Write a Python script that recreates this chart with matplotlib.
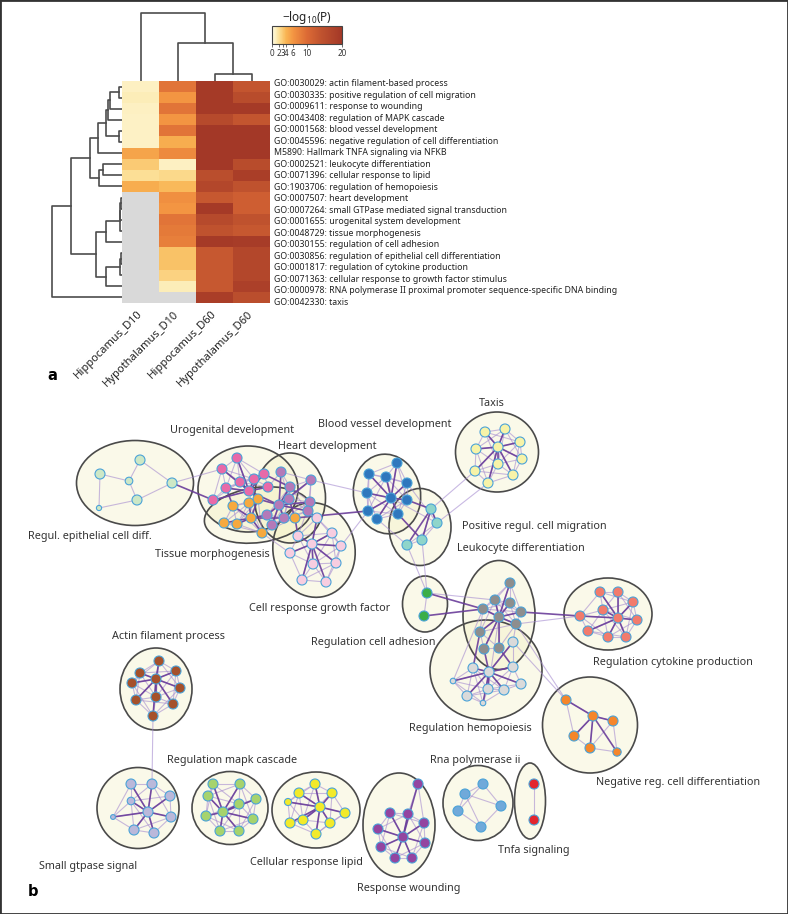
"""Enrichment heatmap (panel a) and GO-term cluster network (panel b)."""

import numpy as np
import matplotlib

matplotlib.use("Agg")
import matplotlib.pyplot as plt
from matplotlib.colors import LinearSegmentedColormap
from matplotlib.patches import Ellipse, Rectangle

plt.rcParams["font.family"] = ["Noto Sans", "DejaVu Sans"]
plt.rcParams["mathtext.default"] = "regular"

W, H = 788, 914

# ---------------- panel a data ----------------
terms = [
    "GO:0030029: actin filament-based process",
    "GO:0030335: positive regulation of cell migration",
    "GO:0009611: response to wounding",
    "GO:0043408: regulation of MAPK cascade",
    "GO:0001568: blood vessel development",
    "GO:0045596: negative regulation of cell differentiation",
    "M5890: Hallmark TNFA signaling via NFKB",
    "GO:0002521: leukocyte differentiation",
    "GO:0071396: cellular response to lipid",
    "GO:1903706: regulation of hemopoiesis",
    "GO:0007507: heart development",
    "GO:0007264: small GTPase mediated signal transduction",
    "GO:0001655: urogenital system development",
    "GO:0048729: tissue morphogenesis",
    "GO:0030155: regulation of cell adhesion",
    "GO:0030856: regulation of epithelial cell differentiation",
    "GO:0001817: regulation of cytokine production",
    "GO:0071363: cellular response to growth factor stimulus",
    "GO:0000978: RNA polymerase II proximal promoter sequence-specific DNA binding",
    "GO:0042330: taxis",
]
samples = ["Hippocamus_D10", "Hypothalamus_D10", "Hippocamus_D60", "Hypothalamus_D60"]

nan = np.nan
hippocamus_d10 = [1.0, 1.2, 1.0, 0.9, 0.9, 0.9, 5.0, 3.0, 2.0, 4.5,
                  nan, nan, nan, nan, nan, nan, nan, nan, nan, nan]
hypothalamus_d10 = [9.0, 6.0, 9.0, 6.0, 9.0, 4.5, 7.0, 1.0, 2.3, 3.8,
                    6.5, 6.0, 9.0, 8.5, 8.0, 3.4, 3.4, 2.6, 1.2, nan]
hippocamus_d60 = [19.5, 19.5, 19.5, 16.0, 20.0, 20.0, 20.0, 20.0, 15.0, 16.5,
                  13.0, 19.5, 16.0, 14.0, 19.5, 13.0, 13.0, 13.0, 13.0, 18.5]
hypothalamus_d60 = [13.5, 15.5, 19.5, 13.5, 20.0, 20.0, 20.0, 15.5, 18.5, 14.0,
                    12.0, 12.0, 14.0, 13.0, 19.0, 16.5, 16.5, 16.5, 18.0, 15.0]
cbar_ticks = [0, 2, 3, 4, 6, 10, 20]

# dendrograms as (child a, child b, merge height); leaves first, merged ids follow
row_links = [
    (0, 1, 0.04), (20, 2, 0.17), (21, 3, 0.20), (4, 5, 0.04), (22, 23, 0.23),
    (24, 6, 0.35), (7, 8, 0.27), (26, 9, 0.33), (25, 27, 0.46),
    (10, 11, 0.02), (29, 12, 0.025), (30, 13, 0.03), (31, 14, 0.23),
    (15, 16, 0.02), (33, 17, 0.03), (34, 18, 0.23), (32, 35, 0.37),
    (28, 36, 0.73), (37, 19, 1.0),
]
col_links = [(2, 3, 0.10), (1, 4, 0.56), (0, 5, 1.0)]

# ---------------- panel b data (layout coordinates of the network) ----------------
epithelial = [(100, 474), (140, 460), (129, 481), (137, 500), (172, 483), (99, 508)]
urogenital = [(237, 458), (222, 469), (240, 482), (254, 479), (264, 474),
              (226, 488), (249, 491), (268, 487), (213, 500)]
heart = [(281, 472), (311, 480), (290, 487), (289, 499), (310, 502),
         (279, 505), (308, 511), (267, 515), (284, 518), (272, 525)]
tissue = [(258, 499), (249, 503), (233, 506), (251, 518), (224, 523),
          (237, 524), (262, 533), (295, 518)]
growth = [(317, 518), (298, 536), (332, 533), (312, 544), (341, 546),
          (290, 553), (313, 564), (336, 563), (302, 580), (326, 582)]
blood = [(397, 463), (369, 474), (386, 477), (407, 483), (367, 493),
         (391, 498), (407, 500), (368, 511), (377, 519), (398, 514)]
migration = [(431, 509), (437, 523), (422, 540), (407, 545)]
taxis = [(485, 432), (505, 429), (520, 442), (476, 449), (498, 447),
         (522, 459), (498, 464), (475, 471), (513, 475), (488, 483)]
adhesion = [(427, 593), (424, 616)]
leukocyte = [(510, 583), (495, 600), (510, 603), (483, 609), (521, 612),
             (499, 617), (516, 624), (480, 632), (484, 649), (499, 648)]
hemopoiesis = [(513, 642), (473, 668), (489, 672), (513, 667), (453, 681),
               (521, 684), (488, 689), (504, 690), (467, 696), (483, 703)]
cytokine = [(600, 592), (618, 592), (633, 602), (603, 610), (580, 616),
            (618, 618), (637, 620), (588, 631), (608, 637), (626, 637)]
negative = [(566, 700), (593, 716), (613, 721), (574, 736), (590, 748), (617, 752)]
actin = [(159, 661), (140, 673), (176, 671), (156, 679), (132, 683),
         (180, 688), (156, 697), (136, 700), (173, 704), (153, 716)]
gtpase = [(131, 784), (152, 784), (170, 796), (131, 801), (148, 812),
          (171, 817), (113, 817), (134, 830), (154, 833)]
mapk = [(213, 784), (240, 784), (208, 796), (256, 799), (239, 804),
        (223, 812), (206, 816), (253, 819), (220, 831), (239, 831)]
lipid = [(315, 784), (299, 793), (332, 793), (288, 802), (320, 807),
         (345, 813), (303, 820), (290, 823), (330, 823), (316, 834)]
wounding = [(418, 784), (390, 813), (408, 814), (424, 823), (378, 829),
            (403, 837), (425, 843), (381, 847), (395, 858), (412, 858)]
rnapol = [(483, 784), (465, 794), (501, 806), (458, 811), (481, 827)]
tnfa = [(534, 784), (534, 820)]

# name -> (label, node colour, nodes, hub node for strong edges)
clusters = {
    "epithelial": ("Regul. epithelial cell diff.", "#cde8c6", epithelial, None),
    "urogenital": ("Urogenital development", "#e86aa8", urogenital, 6),
    "heart": ("Heart development", "#b47ab8", heart, 5),
    "tissue": ("Tissue morphogenesis", "#f6a93f", tissue, 3),
    "growth": ("Cell response growth factor", "#f7cde0", growth, 3),
    "blood": ("Blood vessel development", "#2f77bd", blood, 5),
    "migration": ("Positive regul. cell migration", "#8fd5ca", migration, 0),
    "taxis": ("Taxis", "#f7f3a8", taxis, 4),
    "adhesion": ("Regulation cell adhesion", "#3aae48", adhesion, None),
    "leukocyte": ("Leukocyte differentiation", "#8e8e8e", leukocyte, 5),
    "hemopoiesis": ("Regulation hemopoiesis", "#dadada", hemopoiesis, 2),
    "cytokine": ("Regulation cytokine production", "#f27b6c", cytokine, 5),
    "negative": ("Negative reg. cell differentiation", "#f5862b", negative, 1),
    "actin": ("Actin filament process", "#a5512b", actin, 3),
    "gtpase": ("Small gtpase signal", "#bab8da", gtpase, 4),
    "mapk": ("Regulation mapk cascade", "#a6d36d", mapk, 5),
    "lipid": ("Cellular response lipid", "#f2ea2a", lipid, 4),
    "wounding": ("Response wounding", "#9345a0", wounding, 5),
    "rnapol": ("Rna polymerase ii", "#70a9da", rnapol, None),
    "tnfa": ("Tnfa signaling", "#e3262e", tnfa, None),
}

# edges between clusters: (cluster, node, cluster, node, strong)
cross_links = [
    ("epithelial", 4, "urogenital", 8, True), ("epithelial", 4, "urogenital", 1, False),
    ("urogenital", 6, "heart", 5, True), ("urogenital", 2, "tissue", 0, True),
    ("urogenital", 4, "heart", 2, True), ("urogenital", 7, "heart", 0, False),
    ("urogenital", 5, "tissue", 2, True), ("urogenital", 3, "tissue", 1, False),
    ("heart", 5, "tissue", 0, True), ("heart", 7, "tissue", 3, True),
    ("heart", 3, "tissue", 7, True), ("heart", 6, "growth", 0, True),
    ("heart", 4, "growth", 1, False), ("tissue", 7, "growth", 1, True),
    ("tissue", 6, "growth", 5, False), ("heart", 1, "blood", 4, False),
    ("tissue", 7, "blood", 7, True), ("growth", 4, "blood", 7, False),
    ("blood", 6, "migration", 0, True), ("blood", 9, "migration", 2, True),
    ("blood", 5, "migration", 1, False), ("blood", 8, "migration", 3, False),
    ("blood", 3, "migration", 1, False), ("migration", 0, "taxis", 7, False),
    ("migration", 1, "taxis", 9, False), ("migration", 2, "adhesion", 0, False),
    ("migration", 3, "adhesion", 0, False), ("adhesion", 0, "leukocyte", 3, True),
    ("adhesion", 1, "leukocyte", 3, True), ("adhesion", 0, "leukocyte", 1, False),
    ("leukocyte", 4, "cytokine", 4, True), ("leukocyte", 6, "cytokine", 4, False),
    ("leukocyte", 7, "hemopoiesis", 1, True), ("leukocyte", 8, "hemopoiesis", 2, True),
    ("leukocyte", 9, "hemopoiesis", 3, True), ("leukocyte", 5, "hemopoiesis", 6, False),
    ("leukocyte", 6, "hemopoiesis", 0, False), ("leukocyte", 3, "hemopoiesis", 4, False),
    ("leukocyte", 6, "negative", 0, False), ("hemopoiesis", 0, "negative", 0, False),
    ("actin", 9, "gtpase", 1, False),
]

# ---------------- layout / styling ----------------
hulls = {  # centre x, centre y, width, height, angle
    "epithelial": (135, 483, 117, 85, 0), "urogenital": (248, 489, 100, 86, 0),
    "heart": (290, 498, 71, 90, 0), "tissue": (258, 515, 108, 55, -8),
    "growth": (314, 550, 82, 95, -10), "blood": (387, 494, 67, 80, -10),
    "migration": (420, 527, 62, 77, 0), "taxis": (497, 452, 83, 80, 0),
    "adhesion": (425, 604, 45, 56, 0), "leukocyte": (499, 615, 72, 109, 0),
    "hemopoiesis": (486, 670, 112, 100, 0), "cytokine": (608, 614, 88, 72, 0),
    "negative": (590, 725, 95, 96, 0), "actin": (156, 689, 72, 82, 0),
    "gtpase": (138, 808, 82, 81, 0), "mapk": (230, 808, 76, 73, 0),
    "lipid": (316, 810, 88, 76, 0), "wounding": (399, 825, 72, 104, 0),
    "rnapol": (478, 803, 70, 75, 0), "tnfa": (530, 801, 31, 76, 0),
}
label_xy = {
    "epithelial": (90, 536), "urogenital": (232, 431), "heart": (327, 446),
    "tissue": (212, 554), "growth": (320, 608), "blood": (385, 425),
    "migration": (534, 527), "taxis": (492, 403), "adhesion": (373, 642),
    "leukocyte": (521, 549), "hemopoiesis": (470, 728), "cytokine": (673, 662),
    "negative": (678, 783), "actin": (169, 636), "gtpase": (88, 866),
    "mapk": (232, 761), "lipid": (306, 863), "wounding": (409, 889),
    "rnapol": (475, 761), "tnfa": (534, 851),
}
small_nodes = {"epithelial": {5: 14, 2: 30}, "hemopoiesis": {4: 16, 9: 16},
               "gtpase": {3: 30, 6: 12}, "lipid": {3: 26}, "negative": {5: 36}}

fig = plt.figure(figsize=(W / 100, H / 100), dpi=100)


def px_axes(x0, y0, x1, y1):
    return fig.add_axes([x0 / W, 1 - y1 / H, (x1 - x0) / W, (y1 - y0) / H])


def dendrogram_lines(links, n_leaves):
    pos = [float(i) for i in range(n_leaves)]
    height = [0.0] * n_leaves
    out = []
    for a, b, h in links:
        out.append(([height[a], h, h, height[b]], [pos[a], pos[a], pos[b], pos[b]]))
        pos.append((pos[a] + pos[b]) / 2)
        height.append(h)
    return out


# ---------------- panel b ----------------
ax = fig.add_axes([0, 0, 1, 1])
ax.set_xlim(0, W)
ax.set_ylim(H, 0)
ax.axis("off")

light = dict(color="#a58bd0", lw=0.8, alpha=0.6, zorder=2, solid_capstyle="round")
dark = dict(color="#6a3d9a", lw=1.2, alpha=0.9, zorder=2.5, solid_capstyle="round")

for key, (cx, cy, w, h, ang) in hulls.items():
    ax.add_patch(Ellipse((cx, cy), w, h, angle=ang, facecolor="#f2f0c0",
                         alpha=0.35, edgecolor="none", zorder=1))
    ax.add_patch(Ellipse((cx, cy), w, h, angle=ang, facecolor="none",
                         edgecolor="#4a4a4a", lw=1.2, zorder=1.5))

for key, (label, color, nodes, hub) in clusters.items():
    pts = np.array(nodes, dtype=float)
    for i in range(len(pts)):
        for j in range(i + 1, len(pts)):
            if np.hypot(*(pts[i] - pts[j])) < 40 or len(pts) <= 2:
                ax.plot([pts[i, 0], pts[j, 0]], [pts[i, 1], pts[j, 1]], **light)
    if hub is not None:
        for j in range(len(pts)):
            if j != hub:
                ax.plot([pts[hub, 0], pts[j, 0]], [pts[hub, 1], pts[j, 1]], **dark)

for ka, ia, kb, ib, strong in cross_links:
    pa, pb = clusters[ka][2][ia], clusters[kb][2][ib]
    ax.plot([pa[0], pb[0]], [pa[1], pb[1]], **(dark if strong else light))

for key, (label, color, nodes, hub) in clusters.items():
    pts = np.array(nodes, dtype=float)
    sizes = [small_nodes.get(key, {}).get(i, 52) for i in range(len(pts))]
    ax.scatter(pts[:, 0], pts[:, 1], s=sizes, c=color, edgecolors="#4ba3d8",
               linewidths=0.8, zorder=3)
    lx, ly = label_xy[key]
    ax.text(lx, ly, label, ha="center", va="center", fontsize=7.8, color="#333333")

# ---------------- panel a ----------------
cmap = LinearSegmentedColormap.from_list(
    "logp",
    [(0.0, "#fffbe6"), (0.05, "#fdf0c0"), (0.1, "#fcdf95"), (0.2, "#f9b553"),
     (0.3, "#f39542"), (0.5, "#dc6a35"), (0.7, "#c0532f"), (1.0, "#a33827")],
)
cmap.set_bad("#d9d9d9")
matrix = np.array([hippocamus_d10, hypothalamus_d10, hippocamus_d60, hypothalamus_d60]).T

ax_hm = px_axes(122, 81, 270, 303)
im = ax_hm.imshow(np.ma.masked_invalid(matrix), cmap=cmap, vmin=0, vmax=20,
                  aspect="auto", interpolation="nearest")
for s in ax_hm.spines.values():
    s.set_visible(False)
ax_hm.yaxis.tick_right()
ax_hm.set_yticks(np.linspace(-0.35, len(terms) - 0.65, len(terms)))
ax_hm.set_yticklabels(terms, fontsize=6.3, color="#222222")
ax_hm.set_xticks(range(len(samples)))
ax_hm.set_xticklabels(samples, rotation=45, ha="right", va="center",
                      rotation_mode="anchor", fontsize=8, color="#222222")
ax_hm.tick_params(axis="both", length=0)
ax_hm.tick_params(axis="y", pad=3)
ax_hm.tick_params(axis="x", pad=7)

ax_rd = px_axes(50, 81, 122, 303)
for xs, ys in dendrogram_lines(row_links, len(terms)):
    ax_rd.plot(xs, ys, color="#4d4d4d", lw=1.2)
ax_rd.set_xlim(1.03, 0)
ax_rd.set_ylim(len(terms) - 0.5, -0.5)
ax_rd.axis("off")

ax_cd = px_axes(122, 10, 270, 81)
for hs, ps in dendrogram_lines(col_links, len(samples)):
    ax_cd.plot(ps, hs, color="#4d4d4d", lw=1.2)
ax_cd.set_xlim(-0.5, len(samples) - 0.5)
ax_cd.set_ylim(0, 1.04)
ax_cd.axis("off")

cax = px_axes(272, 26, 342, 44)
cb = fig.colorbar(im, cax=cax, orientation="horizontal", ticks=cbar_ticks)
cb.outline.set_edgecolor("#444444")
cb.outline.set_linewidth(0.8)
cax.tick_params(labelsize=5.8, length=2.5, width=0.5, pad=1, colors="#333333")
cax.set_title("−log$_{10}$(P)", fontsize=8.5, pad=2, color="#222222")

fig.text(52 / W, 1 - 376 / H, "a", fontweight="bold", fontsize=10.5,
         family="DejaVu Sans", ha="center", va="center")
fig.text(33 / W, 1 - 892 / H, "b", fontweight="bold", fontsize=10.5,
         family="DejaVu Sans", ha="center", va="center")
fig.add_artist(Rectangle((0, 0), 1, 1, transform=fig.transFigure, fill=False,
                         edgecolor="#333333", lw=2))

fig.savefig("out.png", dpi=100)
